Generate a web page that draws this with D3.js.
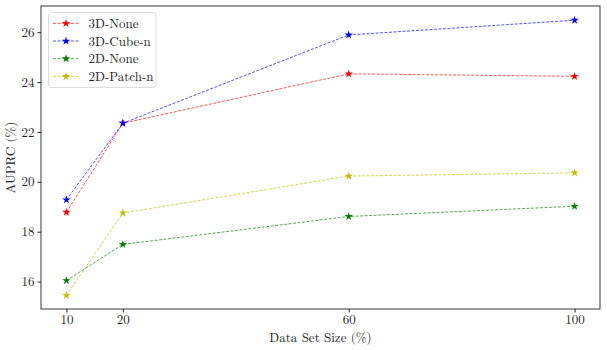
<!DOCTYPE html>
<html lang="en">
<head>
<meta charset="utf-8">
<title>AUPRC vs data set size</title>
<script src="https://cdn.jsdelivr.net/npm/d3@7"></script>
<style>
body { margin: 0; background: #fff; }
</style>
</head>
<body>
<svg width="607" height="350"></svg>
<script>
// data
var sizes = [10, 20, 60, 100];
var seriesNames = ["3D-None", "3D-Cube-n", "2D-None", "2D-Patch-n"];
var none3d  = [18.78, 22.35, 24.33, 24.23];
var cube3d  = [19.28, 22.35, 25.89, 26.48];
var none2d  = [16.04, 17.49, 18.61, 19.02];
var patch2d = [15.45, 18.75, 20.23, 20.36];
var yTicks = [16, 18, 20, 22, 24, 26];

var colors = ["#ff0000", "#0000ff", "#008000", "#bfbf00"];
var allSeries = [none3d, cube3d, none2d, patch2d];
var FONT = "'Latin Modern Roman', 'Liberation Serif', serif";

var svg = d3.select("svg");
var m = {left: 41, top: 6, right: 600, bottom: 309};

var x = d3.scaleLinear().domain([5.5, 104.5]).range([m.left, m.right]);
var y = d3.scaleLinear().domain([14.9, 27.05]).range([m.bottom, m.top]);

// axes
svg.append("g").attr("class", "axis")
  .attr("transform", "translate(0," + m.bottom + ")")
  .call(d3.axisBottom(x).tickValues(sizes).tickSize(3.5).tickPadding(2.5).tickSizeOuter(0));
svg.append("g").attr("class", "axis")
  .attr("transform", "translate(" + m.left + ",0)")
  .call(d3.axisLeft(y).tickValues(yTicks).tickSize(3.5).tickPadding(3).tickSizeOuter(0));
svg.selectAll(".axis text").style("font-size", "13px").style("font-family", FONT).attr("fill", "#222");
svg.selectAll(".axis line").attr("stroke", "#222");
svg.selectAll(".axis .domain").remove();

// frame
svg.append("rect")
  .attr("x", m.left).attr("y", m.top)
  .attr("width", m.right - m.left).attr("height", m.bottom - m.top)
  .attr("fill", "none").attr("stroke", "#222").attr("stroke-width", 0.9);

// labels
svg.append("text").attr("x", (m.left + m.right) / 2).attr("y", 341.5)
  .attr("text-anchor", "middle").style("font-family", FONT).style("font-size", "13px")
  .attr("fill", "#222").text("Data Set Size (%)");
svg.append("text").attr("transform", "translate(15," + ((m.top + m.bottom) / 2) + ") rotate(-90)")
  .attr("text-anchor", "middle").style("font-family", FONT).style("font-size", "13px")
  .attr("fill", "#222").text("AUPRC (%)");

var line = d3.line().x(function(d, i) { return x(sizes[i]); }).y(function(d) { return y(d); });
var star = d3.symbol().type(d3.symbolStar).size(22);

allSeries.forEach(function(s, k) {
  svg.append("path").datum(s)
    .attr("d", line)
    .attr("fill", "none")
    .attr("stroke", colors[k])
    .attr("stroke-width", 0.9)
    .attr("stroke-dasharray", "3,1.5")
    .attr("opacity", 0.75);
  svg.selectAll(".pt" + k).data(s).enter().append("path")
    .attr("class", "pt" + k)
    .attr("d", star)
    .attr("transform", function(d, i) { return "translate(" + x(sizes[i]) + "," + y(d) + ")"; })
    .attr("fill", colors[k]);
});

// legend
var lg = svg.append("g");
lg.append("rect").attr("x", 48.5).attr("y", 12.5).attr("width", 107.5).attr("height", 75)
  .attr("rx", 2.5).attr("fill", "#fff").attr("fill-opacity", 0.8)
  .attr("stroke", "#d8d8d8").attr("stroke-width", 0.9);
seriesNames.forEach(function(n, k) {
  var yy = 23.3 + k * 17.7;
  lg.append("line").attr("x1", 53).attr("x2", 79).attr("y1", yy).attr("y2", yy)
    .attr("stroke", colors[k]).attr("stroke-width", 0.9)
    .attr("stroke-dasharray", "3,1.5").attr("opacity", 0.75);
  lg.append("path").attr("d", star).attr("transform", "translate(66," + yy + ")").attr("fill", colors[k]);
  lg.append("text").attr("x", 88.5).attr("y", yy + 4.5)
    .style("font-family", FONT).style("font-size", "13px").attr("fill", "#222").text(n);
});
</script>
</body>
</html>
